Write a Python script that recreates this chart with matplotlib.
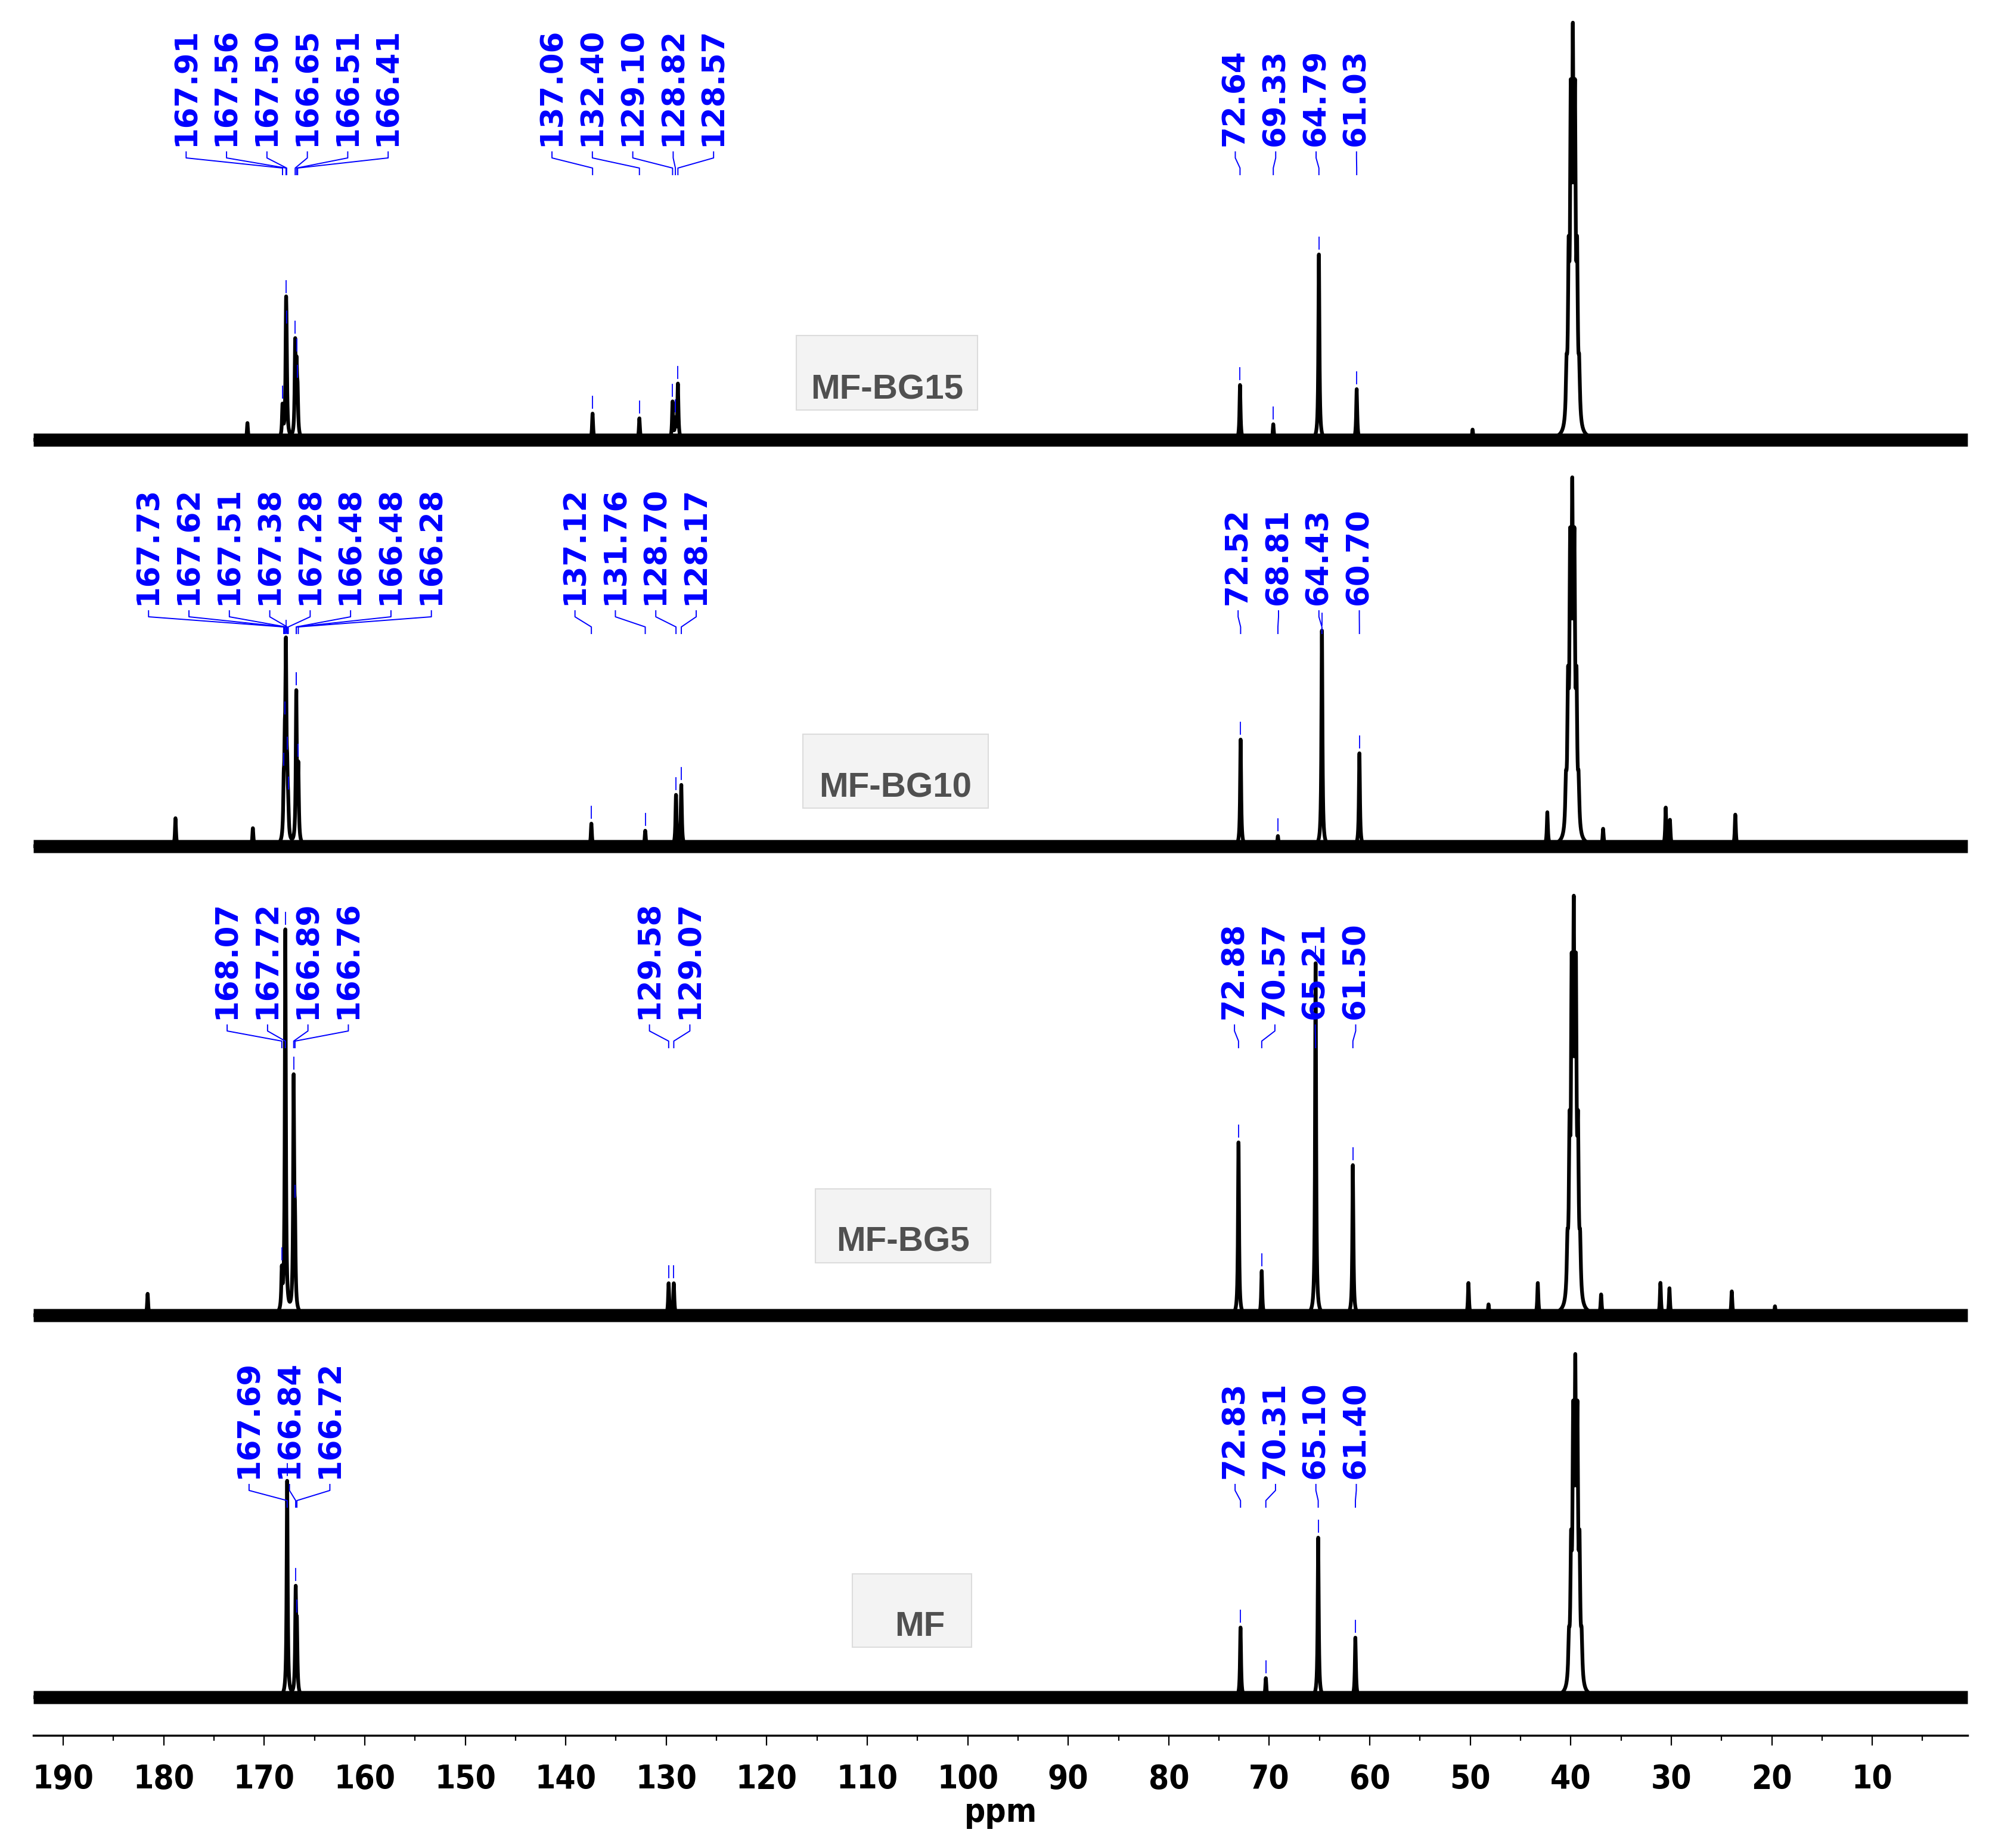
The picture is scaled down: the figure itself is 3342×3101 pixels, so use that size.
import numpy as np
import matplotlib
matplotlib.use("Agg")
import matplotlib.pyplot as plt
from matplotlib.patches import Rectangle
from matplotlib.font_manager import FontProperties

# ---------------- data (ppm, intensities in plot units) ----------------
sample_names = ["MF-BG15", "MF-BG10", "MF-BG5", "MF"]

# reference offset between the picked labels and the drawn trace (ppm)
trace_shift = [0.27, 0.33, 0.18, 0.03]
baseline_level = [2174, 1492, 705, 64]
noise_halfwidth = [11, 11, 11, 11]

# DMSO-d6 septet
dmso_ppm = 39.52
dmso_spacing = 0.21
dmso_pattern = [1, 3, 6, 7, 6, 3, 1]
dmso_height = [700, 619, 704, 576]

bg15_peak_ppm = [171.40, 167.91, 167.56, 167.50, 166.65, 166.51, 166.41,
                 137.06, 132.40, 129.10, 128.82, 128.57,
                 72.64, 69.33, 64.79, 61.03, 49.50]
bg15_peak_height = [28, 53, 190, 90, 150, 100, 60,
                    44, 36, 62, 30, 92,
                    92, 26, 311, 85, 17]

bg10_peak_ppm = [178.50, 170.80, 167.73, 167.62, 167.51, 167.38, 167.28, 166.48, 166.28,
                 137.12, 131.76, 128.70, 128.17,
                 72.52, 68.81, 64.43, 60.70, 42.00, 36.45, 30.22, 29.80, 23.30]
bg10_peak_height = [47, 30, 75, 120, 300, 80, 40, 250, 120,
                    38, 26, 85, 102,
                    179, 17, 362, 156, 55, 28, 64, 43, 53]

bg5_peak_ppm = [181.42, 168.07, 167.72, 166.89, 166.76, 129.58, 129.07,
                72.88, 70.57, 65.21, 61.50, 50.00, 48.00, 43.10, 36.80, 30.90, 30.00, 23.80, 19.50]
bg5_peak_height = [36, 64, 644, 380, 120, 53, 53,
                   290, 74, 591, 252, 54, 18, 53, 33, 54, 45, 40, 15]

mf_peak_ppm = [167.69, 166.84, 166.72, 72.83, 70.31, 65.10, 61.40]
mf_peak_height = [362, 165, 100, 117, 32, 268, 100]

bg15_labels = [["167.91", "167.56", "167.50", "166.65", "166.51", "166.41"],
               ["137.06", "132.40", "129.10", "128.82", "128.57"],
               ["72.64", "69.33", "64.79", "61.03"]]
bg10_labels = [["167.73", "167.62", "167.51", "167.38", "167.28", "166.48", "166.48", "166.28"],
               ["137.12", "131.76", "128.70", "128.17"],
               ["72.52", "68.81", "64.43", "60.70"]]
bg5_labels = [["168.07", "167.72", "166.89", "166.76"],
              ["129.58", "129.07"],
              ["72.88", "70.57", "65.21", "61.50"]]
mf_labels = [["167.69", "166.84", "166.72"],
             ["72.83", "70.31", "65.10", "61.40"]]

x_major_ticks = list(range(10, 191, 10))

peak_ppm = [bg15_peak_ppm, bg10_peak_ppm, bg5_peak_ppm, mf_peak_ppm]
peak_height = [bg15_peak_height, bg10_peak_height, bg5_peak_height, mf_peak_height]
labels = [bg15_labels, bg10_labels, bg5_labels, mf_labels]

# ---------------- layout ----------------
W, H = 3342, 3101
AX_L, AX_R, AX_B = 56, 3301, 2912
label_start_ppm = [[177.77, 141.37, 73.38],
                   [181.51, 139.08, 73.10],
                   [173.69, 131.67, 73.46],
                   [171.51, 73.40]]
label_step = 4.02
label_bottom = [2667, 1897, 1202, 431]      # data y of label text start
boxes = [(1336, 1640, 563, 688), (1347, 1658, 1232, 1356),
         (1368, 1662, 1995, 2119), (1430, 1630, 2641, 2764)]  # fig px x0,x1,y0,y1
box_text_dx = [0, 0, 0, 13]

fig = plt.figure(figsize=(W / 100, H / 100), dpi=100)
ax = fig.add_axes([AX_L / W, (H - AX_B) / H, (AX_R - AX_L) / W, AX_B / H])
ax.set_xlim(192.97, 0.52)
ax.set_ylim(0, AX_B)

grid = np.linspace(0.52, 192.97, 40000)
LW = 0.06  # lorentzian half width (ppm)


def lorentz(center, height, w=LW):
    return height * w ** 2 / ((grid - center) ** 2 + w ** 2)


for i in range(4):
    sh = trace_shift[i]
    base = baseline_level[i]
    y = np.zeros_like(grid)
    for p, h in zip(peak_ppm[i], peak_height[i]):
        y += lorentz(p + sh, h)
    solv = np.zeros_like(grid)
    for k, rel in enumerate(dmso_pattern):
        solv += lorentz(dmso_ppm + sh + (k - 3) * dmso_spacing, rel, 0.08)
    solv *= dmso_height[i] / solv.max()
    y += solv

    nh = noise_halfwidth[i]
    ax.fill_between(grid, base - nh, base + nh, color="black", lw=0, zorder=2)
    ax.plot(grid, base + y, color="black", lw=4.5, zorder=3)

    T = label_bottom[i]
    for g, group in enumerate(labels[i]):
        for j, txt in enumerate(group):
            tx = label_start_ppm[i][g] - j * label_step
            xp = float(txt) + sh
            ax.text(tx, T, txt, rotation=90, ha="center", va="bottom",
                    color="#0000ff", fontsize=37, fontweight="bold",
                    family="DejaVu Sans", zorder=5)
            ax.plot([tx, tx, xp, xp], [T - 10, T - 20, T - 37, T - 48],
                    color="#0000ff", lw=1.4, zorder=4)
            yv = base + np.interp(xp, grid, y)
            ax.plot([xp, xp], [yv + 9, yv + 29], color="#0000ff", lw=1.3, zorder=4)

# sample name boxes
for name, (x0, x1, y0, y1), dx in zip(sample_names, boxes, box_text_dx):
    fig.add_artist(Rectangle((x0 / W, 1 - y1 / H), (x1 - x0) / W, (y1 - y0) / H,
                             transform=fig.transFigure, facecolor="#f3f3f3",
                             edgecolor="#dcdcdc", lw=1.5, zorder=1))
    fig.text(((x0 + x1) / 2 + dx) / W, 1 - (y1 - 19) / H, name, ha="center", va="baseline",
             fontsize=42, fontweight="bold", family="Liberation Sans", color="#505050",
             zorder=2)

# axis styling
for s in ["top", "left", "right"]:
    ax.spines[s].set_visible(False)
ax.spines["bottom"].set_linewidth(2.5)
ax.set_yticks([])
ax.set_xticks(x_major_ticks)
ax.set_xticks(np.arange(5, 193, 5), minor=True)
ax.set_xticklabels([str(t) for t in x_major_ticks])
ax.tick_params(axis="x", which="major", direction="out", length=12.2, width=1.6, pad=22)
ax.tick_params(axis="x", which="minor", direction="out", length=6.5, width=1.6)
fp = FontProperties(family="DejaVu Sans", weight="bold", stretch="condensed", size=39.5)
for lbl in ax.get_xticklabels():
    lbl.set_fontproperties(fp)
fig.text(1678.5 / W, 1 - 3057 / H, "ppm", ha="center", va="baseline", fontproperties=fp)

fig.savefig("out.png", dpi=100)
